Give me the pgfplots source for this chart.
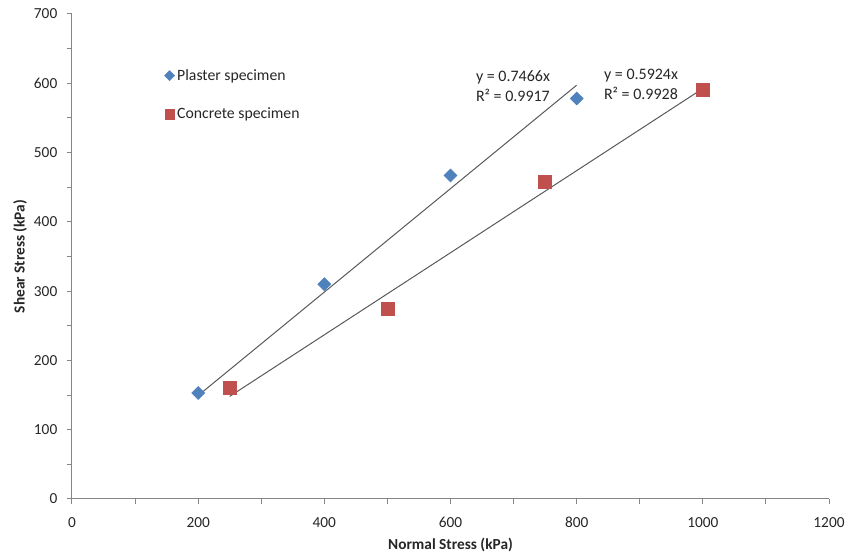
\documentclass[border=0pt]{standalone}
\usepackage{pgfplots}
\pgfplotsset{compat=1.18}
\usepackage{fontspec}
\setmainfont{Carlito}
\definecolor{plasterblue}{HTML}{4F81BD}
\definecolor{concretered}{HTML}{C0504D}
\definecolor{axisgray}{HTML}{868686}
\definecolor{trendgray}{HTML}{595959}
\begin{document}
\begin{tikzpicture}
\useasboundingbox (-54pt,-45.75pt) rectangle (584.25pt,374.25pt);
\begin{axis}[
  at={(0,0)}, anchor=south west,
  scale only axis,
  width=567.75pt, height=363.75pt,
  xmin=0, xmax=1200, ymin=0, ymax=700,
  axis x line*=bottom, axis y line*=left,
  axis line style={axisgray, line width=0.75pt, -},
  xtick={0,200,...,1200},
  minor xtick={100,300,...,1100},
  ytick={0,100,...,700},
  minor ytick={50,150,...,650},
  tick align=outside,
  major tick length=3.75pt, minor tick length=3.75pt,
  every tick/.style={axisgray, line width=0.75pt},
  /pgf/number format/assume math mode=true,
  /pgf/number format/1000 sep={},
  tick label style={font=\fontsize{11.5}{13}\selectfont, text=black!85},
  xticklabel style={yshift=-6.5pt},
  yticklabel style={xshift=-3.75pt},
  xlabel={Normal Stress (kPa)},
  ylabel={Shear Stress (kPa)},
  label style={font=\fontsize{11.5}{13}\selectfont\bfseries, text=black!85},
  xlabel style={at={(axis description cs:0.5,-0.0948)}, anchor=center},
  ylabel style={at={(axis description cs:-0.0687,0.5)}, anchor=center, rotate=0},
  legend style={draw=none, fill=none, at={(axis cs:140,583)}, anchor=west,
    font=\fontsize{11.8}{13}\selectfont, text=black!85, row sep=15.5pt,
    legend cell align=left},
  legend image code/.code={\draw[mark repeat=2,mark phase=2,#1] plot coordinates {(0cm,0cm)(0.15cm,0cm)(0.3cm,0cm)};},
  clip=false,
]
\addplot[only marks, mark=square*, mark size=3.45pt, mark options={rotate=45, draw=plasterblue, fill=plasterblue}, forget plot]
  coordinates {(200,153) (400,310) (600,467) (800,578)};
\addplot[only marks, mark=square*, mark size=4.9pt, mark options={draw=concretered, fill=concretered}, forget plot]
  coordinates {(250,160) (500,274) (750,458) (1000,591)};
\addplot[trendgray, line width=0.75pt, forget plot] coordinates {(200,149.32) (800,597.28)};
\addplot[trendgray, line width=0.75pt, forget plot] coordinates {(250,148.1) (1000,592.4)};
% legend entries
\addlegendimage{only marks, mark=square*, mark size=2.65pt, mark options={rotate=45, draw=plasterblue, fill=plasterblue}}
\addlegendentry{Plaster specimen}
\addlegendimage{only marks, mark=square*, mark size=3.6pt, mark options={draw=concretered, fill=concretered}}
\addlegendentry{Concrete specimen}
\node[anchor=west, align=left, font=\fontsize{12}{15}\selectfont, text=black!85, inner sep=0pt] at (axis cs:640,596) {y = 0.7466x\\R² = 0.9917};
\node[anchor=west, align=left, font=\fontsize{12}{15}\selectfont, text=black!85, inner sep=0pt] at (axis cs:843,599) {y = 0.5924x\\R² = 0.9928};
\end{axis}
\end{tikzpicture}
\end{document}
